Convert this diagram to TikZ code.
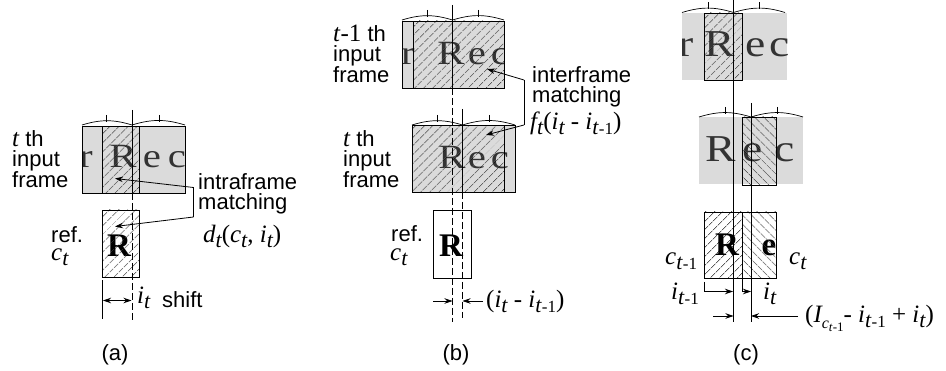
\documentclass[tikz,border=0pt]{standalone}
\usepackage{fontspec}
\setmainfont{Liberation Sans}
\newfontfamily\tmsfont{Liberation Serif}
\usetikzlibrary{arrows.meta,patterns.meta}

% serif italic text and its lowered subscripts
\newcommand{\tx}[1]{{\tmsfont\fontsize{25}{25}\selectfont\itshape #1}}
\newcommand{\sbs}[1]{\raisebox{-5pt}{\fontsize{22}{22}\selectfont #1}}
\newcommand{\prev}{\raisebox{-5pt}{\fontsize{22}{22}\selectfont t\fontsize{17}{17}\selectfont\textup{-1}}}

% two arcs with ticks above a frame: x0, xmid, x1, y, tick1, tick2
\newcommand{\spanarcs}[6]{
    \draw[line width=0.7pt] (#1,#4) to[bend left=17] (#2,#4) to[bend left=17] (#3,#4);
    \draw[line width=0.7pt] (#5,#4-10) -- (#5,#4-3);
    \draw[line width=0.7pt] (#6,#4-10) -- (#6,#4-3);
}

% grey input frame with letters: x, y, width, baseline, size, then x of r, R, e, c
\newcommand{\recframe}[9]{
    \begin{scope}
        \clip (#1,#2) rectangle ++(#3,67.5);
        \fill[framegray] (#1,#2) rectangle ++(#3,67.5);
        \foreach \ltr/\ltrx in {r/#6, R/#7, e/#8, c/#9}
            \node[letter] (ltr\ltr) at (#1+\ltrx,#2+#4) {\scalebox{1.2}[1]{\fontsize{#5}{#5}\selectfont\ltr}};
    \end{scope}
}

\definecolor{framegray}{gray}{0.86}

\begin{document}
\begin{tikzpicture}[x=1pt, y=-1pt, >={Stealth[length=8pt,width=5.5pt]},
    lbl/.style={anchor=base west, inner sep=0pt, align=left, font=\fontsize{22}{20}\selectfont},
    captext/.style={anchor=base, inner sep=0pt, font=\fontsize{22}{22}\selectfont},
    letter/.style={anchor=base, inner sep=0pt, text=black!80, font=\tmsfont},
    refletter/.style={anchor=base, inner sep=0pt, font=\tmsfont\bfseries\fontsize{33}{33}\selectfont},
    hatchup/.style={pattern={Lines[angle=45,distance=6.5pt,line width=0.5pt]}},
    hatchdown/.style={pattern={Lines[angle=-45,distance=6.5pt,line width=0.5pt]}},
    boxline/.style={draw, line width=0.8pt},
    vline/.style={line width=0.8pt},
    vdash/.style={line width=0.8pt, dash pattern=on 7pt off 3pt}]

    \useasboundingbox (0,0) rectangle (946,371);

    % (a) input frame and reference
    \recframe{82}{126.5}{103}{41.5}{34}{4}{41}{70}{95}
    \draw[boxline, hatchup] (102.5,126.5) rectangle (139.5,193);
    \draw[boxline] (82,126.5) rectangle (185,193);
    \node[refletter] (refa) at (119,257) {R};
    \draw[boxline, hatchup] (102.5,210) rectangle (139.5,277.5);
    \spanarcs{82}{132}{185}{125}{106}{159}
    \draw[vline] (132,110) -- (132,193);
    \draw[vdash] (132,193) -- (132,320);
    \draw[vline] (102.5,280) -- (102.5,319);

    % (a) shift
    \coordinate (ashiftl) at (103,300.5);
    \coordinate (ashiftr) at (131.5,300.5);
    \draw[<->, vline] (ashiftl) -- (ashiftr);
    \node[lbl] (ait) at (137,304) {\tx{i\sbs{t}}};
    \node[lbl] (ashift) at (162,308) {shift};

    % (a) intraframe arrow
    \coordinate (aelbowa) at (193.5,187.5);
    \coordinate (aelbowb) at (193.5,217);
    \coordinate (atipa) at (115,178.5);
    \coordinate (atipb) at (115,226.5);
    \draw[->, vline] (aelbowa) -- (atipa);
    \draw[->, vline] (aelbowb) -- (atipb);
    \draw[vline] (aelbowa) -- (aelbowb);

    \node[lbl] (aframe) at (12,188) {\tx{t} th\\input\\frame};
    \node[lbl] (amatch) at (198,210) {intraframe\\matching};
    \node[lbl] (adt) at (203,243) {\tx{d\sbs{t}\textup{(}c\sbs{t}\textup{,} i\sbs{t}\textup{)}}};
    \node[lbl] (aref) at (51,243) {ref.};
    \node[lbl] (act) at (51,261) {\tx{c\sbs{t}}};
    \node[captext] (capa) at (115,361) {(a)};

    % (b) t-1 th frame
    \recframe{402}{21}{102}{44}{34}{6}{49}{75}{98}
    \draw[boxline, hatchup] (413,21) rectangle (504,88);
    \draw[boxline] (402,21) rectangle (504,88);
    \spanarcs{402}{452.5}{504}{20}{427}{478}
    \draw[vline] (452.5,5) -- (452.5,88);

    % (b) t th frame
    \recframe{412}{125.5}{103}{43}{34}{-12}{40}{65}{88}
    \draw[boxline, hatchup] (412,125.5) rectangle (504,192);
    \draw[boxline] (412,125.5) rectangle (515,192);
    \spanarcs{412}{462.5}{515}{125}{437}{489}
    \draw[vline] (462.5,109) -- (462.5,192);

    % (b) reference
    \draw[boxline] (433,210) rectangle (471,278);
    \node[refletter] (refb) at (451,257) {R};
    \draw[vdash] (452.5,88) -- (452.5,322);
    \draw[vdash] (462.5,192) -- (462.5,318);

    % (b) difference of shifts
    \coordinate (bdiffl) at (433,301);
    \coordinate (bdiffla) at (452.5,301);
    \coordinate (bdiffr) at (483,301);
    \coordinate (bdiffra) at (462.5,301);
    \draw[->, vline] (bdiffl) -- (bdiffla);
    \draw[->, vline] (bdiffr) -- (bdiffra);
    \node[lbl] (bdiff) at (486,308) {\tx{\textup{(}i\sbs{t} \textup{-} i\prev\textup{)}}};

    % (b) interframe arrow
    \coordinate (belbowa) at (524,80);
    \coordinate (belbowb) at (524,125);
    \coordinate (btipa) at (487,69);
    \coordinate (btipb) at (486,135);
    \draw[->, vline] (belbowa) -- (btipa);
    \draw[->, vline] (belbowb) -- (btipb);
    \draw[vline] (belbowa) -- (belbowb);

    \node[lbl] (bprev) at (333,83) {\tx{t\textup{-1}} th\\input\\frame};
    \node[lbl] (bcur) at (343,188) {\tx{t} th\\input\\frame};
    \node[lbl] (bmatch) at (532,103) {interframe\\matching};
    \node[lbl] (bft) at (530,130) {\tx{f\sbs{t}\textup{(}i\sbs{t} \textup{-} i\prev\textup{)}}};
    \node[lbl] (bref) at (391,242) {ref.};
    \node[lbl] (bct) at (390,261) {\tx{c\sbs{t}}};
    \node[captext] (capb) at (456,361) {(b)};

    % (c) t-1 th frame
    \recframe{682}{13}{105}{44}{38}{4}{38}{74}{98}
    \draw[boxline, hatchup] (704,13) rectangle (742,80);
    \spanarcs{682}{733.5}{785}{12.5}{708}{759}

    % (c) t th frame
    \recframe{699}{117}{104}{45}{38}{-30}{22}{54}{86}
    \draw[boxline, hatchdown] (742,117) rectangle (776,185);
    \spanarcs{699}{751}{803}{117}{725}{777}

    % (c) references
    \node[refletter] (refc) at (727,256) {R};
    \node[refletter] (refe) at (769,256) {e};
    \draw[boxline, hatchup] (704,212) rectangle (742,278);
    \draw[boxline, hatchdown] (742,212) rectangle (776,278);
    \draw[vline] (733.5,0) -- (733.5,322);
    \draw[vline] (751,103) -- (751,322);
    \node[lbl] (cprev) at (665,265) {\tx{c\prev}};
    \node[lbl] (cct) at (789,265) {\tx{c\sbs{t}}};

    % (c) shifts
    \coordinate (cla) at (704,282);
    \coordinate (clb) at (704,291.5);
    \coordinate (clc) at (733,291.5);
    \coordinate (cra) at (742,278);
    \coordinate (crb) at (742,291.5);
    \coordinate (crc) at (751,291.5);
    \draw[->, vline] (cla) -- (clb) -- (clc);
    \draw[->, vline] (cra) -- (crb) -- (crc);
    \node[lbl] (citp) at (671,300) {\tx{i\prev}};
    \node[lbl] (cit) at (763,300) {\tx{i\sbs{t}}};

    % (c) total shift
    \coordinate (ctotl) at (713,316);
    \coordinate (ctotla) at (733.5,316);
    \coordinate (ctotr) at (798,316);
    \coordinate (ctotra) at (751,316);
    \draw[->, vline] (ctotl) -- (ctotla);
    \draw[->, vline] (ctotr) -- (ctotra);
    \node[lbl] (ctot) at (805,323) {\tx{\textup{(}I\raisebox{-6pt}{\fontsize{16}{16}\selectfont c\raisebox{-3pt}{\fontsize{13}{13}\selectfont t\textup{-1}}}\textup{-} i\prev{} \textup{+} i\sbs{t}\textup{)}}};
    \node[captext] (capc) at (746,361) {(c)};

\end{tikzpicture}
\end{document}
